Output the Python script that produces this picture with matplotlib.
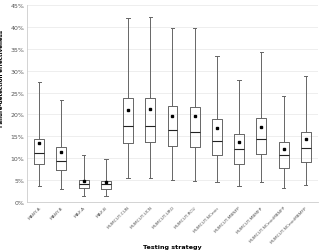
import matplotlib
matplotlib.use("Agg")
import matplotlib.pyplot as plt
import matplotlib.ticker as ticker

strategies = ["MANY-A", "MANY-B", "MAX-A", "MAX-B", "MUMCUT-CUN", "MUMCUT-UCN",
              "MUMCUT-URO", "MUMCUT-RCU", "MUMCUT-NCmin", "MUMCUT-MBNFP",
              "MUMCUT-MBMFP", "MUMCUT-NCminMBNFP", "MUMCUT-NCminMBMFP"]
whis_lo = [3.6, 3.0, 1.4, 1.4, 5.4, 5.5, 5.0, 4.9, 4.6, 3.7, 4.6, 3.1, 3.9]
q1 = [8.6, 7.2, 3.1, 2.9, 13.4, 13.6, 12.8, 12.5, 10.8, 8.7, 11.0, 7.7, 9.2]
med = [11.1, 9.4, 4.2, 4.0, 17.3, 17.4, 16.4, 16.1, 13.9, 12.1, 14.5, 10.7, 12.3]
q3 = [14.5, 12.5, 5.1, 4.8, 23.7, 23.7, 21.9, 21.6, 18.9, 15.5, 19.1, 13.6, 16.1]
whis_hi = [27.4, 23.3, 10.7, 9.8, 42.0, 42.2, 39.7, 39.7, 33.4, 27.9, 34.2, 24.3, 28.7]
means = [13.5, 11.4, 4.7, 4.5, 21.0, 21.2, 19.7, 19.6, 16.8, 13.8, 17.1, 12.1, 14.5]

stats = []
for i, name in enumerate(strategies):
    stats.append(dict(label=name, whislo=whis_lo[i], q1=q1[i], med=med[i],
                      q3=q3[i], whishi=whis_hi[i], mean=means[i], fliers=[]))

fig = plt.figure(figsize=(3.2, 2.53), dpi=100)
ax = fig.add_axes([27 / 320, 50 / 253, 291 / 320, 197 / 253])

edge = "#666666"
ax.bxp(stats, showmeans=True, widths=0.45, showcaps=True, capwidths=0.15,
       boxprops=dict(color=edge, linewidth=0.7),
       whiskerprops=dict(color=edge, linewidth=0.7),
       capprops=dict(color=edge, linewidth=0.7),
       medianprops=dict(color="#222222", linewidth=0.8),
       meanprops=dict(marker="s", markerfacecolor="black", markeredgecolor="black",
                      markersize=2))

ax.set_ylim(0, 45)
ax.set_xlim(0.45, 13.55)
ax.yaxis.set_major_locator(ticker.MultipleLocator(5))
ax.yaxis.set_major_formatter(ticker.FuncFormatter(lambda v, p: "%d%%" % v))
ax.grid(axis="y", color="#ebebeb", linewidth=0.6)
ax.set_axisbelow(True)
for s in ["top", "right"]:
    ax.spines[s].set_visible(False)
for s in ["left", "bottom"]:
    ax.spines[s].set_color("#cccccc")
    ax.spines[s].set_linewidth(0.6)

ax.tick_params(axis="y", labelsize=4.5, colors="#555555", length=0, pad=2)
ax.tick_params(axis="x", labelsize=3.2, colors="#555555", length=0, pad=2)
plt.setp(ax.get_xticklabels(), rotation=45, ha="right", rotation_mode="anchor")

ax.set_ylabel("Failure-detection effectiveness", fontsize=4.0, fontweight="bold")
ax.yaxis.set_label_coords(-0.078, 0.63)
ax.set_xlabel("Testing strategy", fontsize=4.6, fontweight="bold")
ax.xaxis.set_label_coords(0.5, -0.215)

fig.savefig("out.png", dpi=100)
